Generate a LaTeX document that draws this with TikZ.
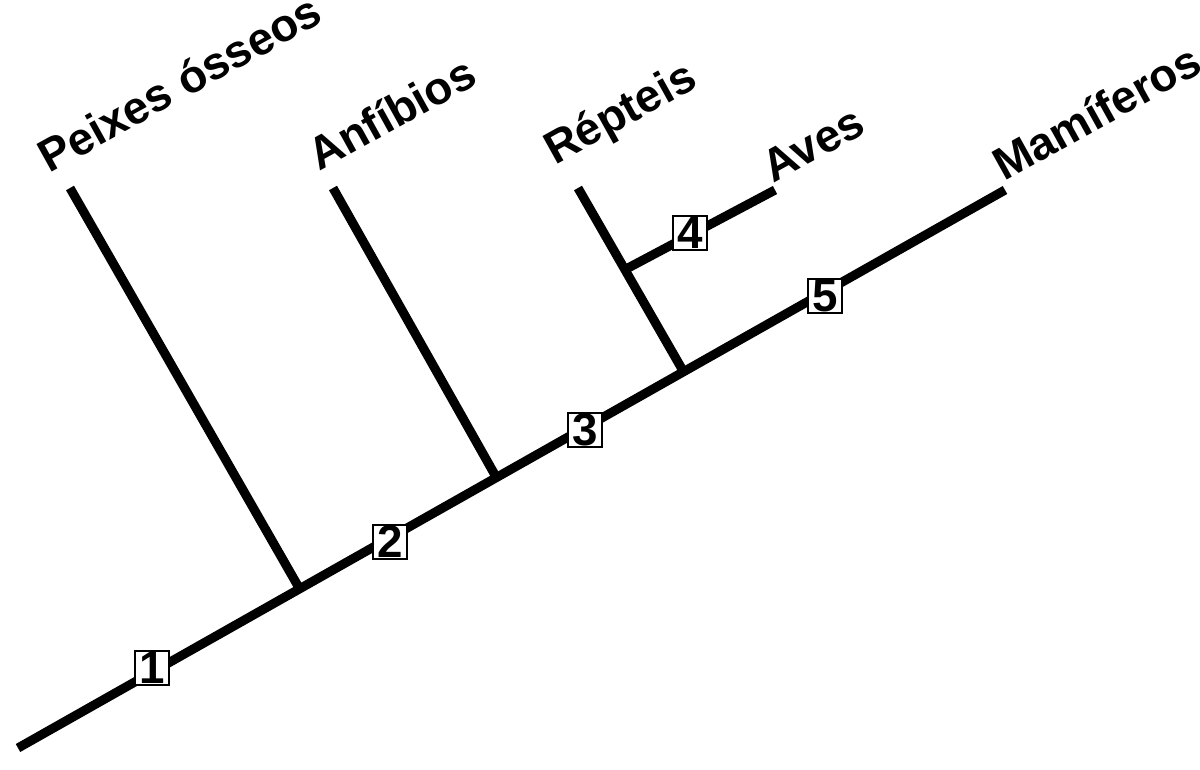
\documentclass[tikz,border=0pt]{standalone}
\usepackage{fontspec}
\setmainfont{Liberation Sans}
\begin{document}
\begin{tikzpicture}[x=0.01cm, y=-0.01cm,
    branch/.style={line width=2.6pt},
    taxon/.style={font=\fontsize{13}{15}\selectfont\bfseries, rotate=29, anchor=south west, inner sep=1pt},
    charbox/.style={draw, line width=0.8pt, fill=white, minimum size=0.34cm, inner sep=0pt, font=\fontsize{13}{15}\selectfont\bfseries}]
    \useasboundingbox (0,0) rectangle (1200,769);
    % tree coordinates
    \coordinate (root) at (18,748);
    \coordinate (n1) at (298,586);
    \coordinate (n2) at (495,475);
    \coordinate (n3) at (682,369);
    \coordinate (n4) at (628,268);
    \coordinate (peixes) at (70,188);
    \coordinate (anfibios) at (333,188);
    \coordinate (repteis) at (578,188);
    \coordinate (aves) at (775,190);
    \coordinate (mamiferos) at (1005,190);

    \draw[branch] (root) -- (mamiferos);
    \draw[branch] (n1) -- (peixes);
    \draw[branch] (n2) -- (anfibios);
    \draw[branch] (n3) -- (repteis);
    \draw[branch] (n4) -- (aves);

    \node[taxon] (tpeixes) at (48,180) {Peixes ósseos};
    \node[taxon] (tanfibios) at (318,178) {Anfíbios};
    \node[taxon] (trepteis) at (558,180) {Répteis};
    \node[taxon] (taves) at (772,190) {Aves};
    \node[taxon] (tmamiferos) at (1003,188) {Mamíferos};

    \node[charbox] (m1) at (152,668) {1};
    \node[charbox] (m2) at (390,542) {2};
    \node[charbox] (m3) at (585,430) {3};
    \node[charbox] (m4) at (690,233) {4};
    \node[charbox] (m5) at (825,296) {5};
\end{tikzpicture}
\end{document}
